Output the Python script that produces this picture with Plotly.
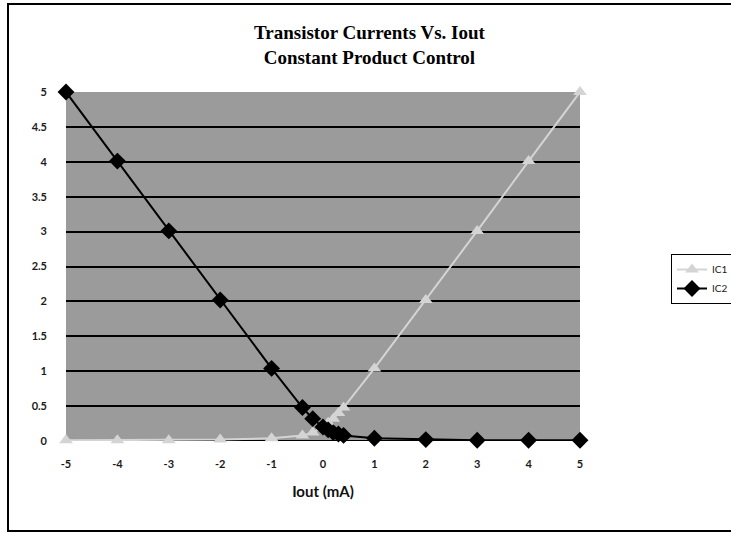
import plotly.graph_objects as go

# Output current (mA) and the two transistor collector currents
iout = [-5, -4, -3, -2, -1, -0.4, -0.2, 0, 0.1, 0.2, 0.3, 0.4, 1, 2, 3, 4, 5]
ic1 = [0.01, 0.01, 0.01, 0.02, 0.04, 0.08, 0.12, 0.2, 0.26, 0.32, 0.4, 0.48,
       1.04, 2.02, 3.01, 4.01, 5.0]
ic2 = [5.0, 4.01, 3.01, 2.02, 1.04, 0.48, 0.32, 0.2, 0.16, 0.12, 0.1, 0.08,
       0.04, 0.02, 0.01, 0.01, 0.01]

x_ticks = [-5, -4, -3, -2, -1, 0, 1, 2, 3, 4, 5]
y_ticks = [0, 0.5, 1, 1.5, 2, 2.5, 3, 3.5, 4, 4.5, 5]

W, H = 731, 533
fig = go.Figure()
fig.add_trace(go.Scatter(
    x=iout, y=ic1, name="IC1", mode="lines+markers",
    line=dict(color="#d4d4d4", width=2),
    marker=dict(symbol="triangle-up", size=12, color="#d4d4d4"),
    cliponaxis=False,
))
fig.add_trace(go.Scatter(
    x=iout, y=ic2, name="IC2", mode="lines+markers",
    line=dict(color="#000000", width=2),
    marker=dict(symbol="diamond", size=13, color="#000000"),
    cliponaxis=False,
))

tick_font = dict(family="Lato", size=11, color="#1a1a1a", weight="bold")
fig.update_layout(
    width=W, height=H,
    margin=dict(l=0, r=0, t=0, b=0, autoexpand=False),
    paper_bgcolor="white",
    plot_bgcolor="#9b9b9b",
    showlegend=True,
    legend=dict(
        x=671 / W, y=1 - 254 / H, xanchor="left", yanchor="top",
        bordercolor="black", borderwidth=1, bgcolor="white",
        font=dict(family="Lato", size=10, color="#1a1a1a"),
        itemwidth=30, tracegroupgap=0,
    ),
    xaxis=dict(
        domain=[66 / W, 580 / W], range=[-5, 5],
        tickvals=x_ticks, ticktext=[str(v) for v in x_ticks],
        showgrid=False, zeroline=False, showline=False,
        ticks="", tickfont=tick_font, ticklabelstandoff=15,
        title=dict(text="<b>Iout (mA)</b>",
                   font=dict(family="Lato", size=15, color="#111111"),
                   standoff=17),
    ),
    yaxis=dict(
        domain=[1 - 441 / H, 1 - 92 / H], range=[0, 5],
        tickvals=y_ticks, ticktext=[f"{v:g}" for v in y_ticks],
        showgrid=True, gridcolor="#000000", gridwidth=2,
        zeroline=False, showline=False, ticks="", tickfont=tick_font,
        ticklabelstandoff=18,
    ),
    annotations=[dict(
        text="<b>Transistor Currents Vs. Iout<br>Constant Product Control</b>",
        x=370 / W, y=1 - 45 / H, xref="paper", yref="paper",
        xanchor="center", yanchor="middle", showarrow=False,
        font=dict(family="Liberation Serif", size=19, color="#000000"),
    )],
    shapes=[
        # outer chart frame
        dict(type="rect", xref="paper", yref="paper",
             x0=8 / W, x1=1.05, y0=1 - 531 / H, y1=1 - 4 / H,
             line=dict(color="black", width=2), layer="below"),
        # x axis line at zero
        dict(type="line", xref="x", yref="y", x0=-5, x1=5, y0=0, y1=0,
             line=dict(color="black", width=2), layer="below"),
    ],
)

fig.write_html("out.html")
